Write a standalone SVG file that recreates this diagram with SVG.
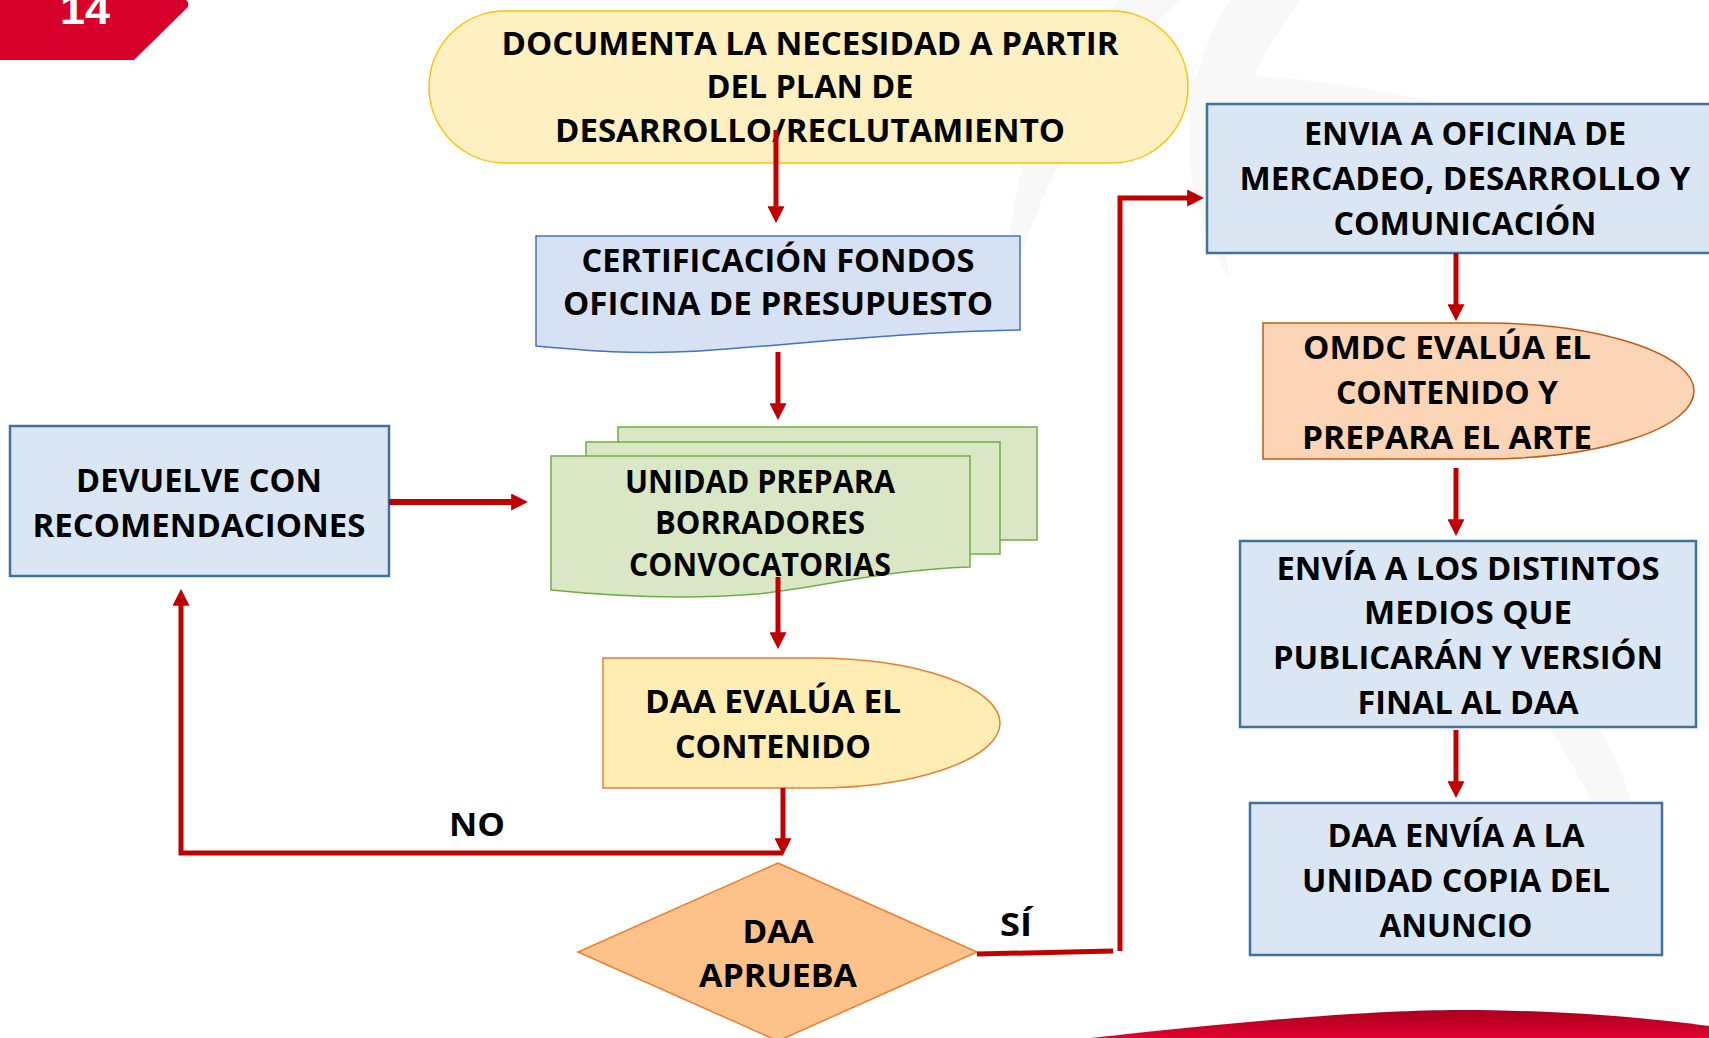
<svg xmlns="http://www.w3.org/2000/svg" width="1709" height="1038" viewBox="0 0 1709 1038">
<defs>
<style>
.t{font-family:"Open Sans","Liberation Sans",sans-serif;font-weight:700;font-size:33px;fill:#000;text-anchor:middle}
.c{fill:none;stroke:#C00000;stroke-width:5;marker-end:url(#ah)}
.cn{fill:none;stroke:#C00000;stroke-width:5}
.blue{fill:#DAE6F3;stroke:#41719C;stroke-width:2.5}
.green{fill:#D9E7C5;stroke:#70AD47;stroke-width:1.5}
</style>
<marker id="ah" viewBox="0 0 10 10" markerUnits="userSpaceOnUse" markerWidth="17" markerHeight="17" refX="0.5" refY="5" orient="auto">
<path d="M0,0 L10,5 L0,10 Z" fill="#C00000"/>
</marker>
<linearGradient id="sw" x1="0" y1="0" x2="0" y2="1">
<stop offset="0" stop-color="#A8001F"/>
<stop offset="1" stop-color="#E0002E"/>
</linearGradient>
</defs>
<rect width="1709" height="1038" fill="#FFFFFF"/>
<g id="watermark" fill="#F8F8F8">
<path d="M1120,0 C1060,60 1000,160 1010,300 C1030,200 1090,90 1180,0 Z"/>
<path d="M1230,0 C1180,80 1170,180 1230,280 C1210,170 1240,80 1300,0 Z"/>
<path d="M960,120 C1100,60 1300,60 1500,120 C1300,100 1100,110 960,150 Z"/>
<path d="M1500,600 C1600,700 1650,800 1640,900 C1600,820 1560,720 1480,640 Z"/>
</g>
<g id="badge">
<path d="M0,0 H186 Q191,4 186,9 L134,60 H0 Z" fill="#D7002A"/>
<text x="85" y="24" font-family="Liberation Sans,Arial,sans-serif" font-weight="700" font-size="42" fill="#FFFFFF" text-anchor="middle" textLength="50" lengthAdjust="spacingAndGlyphs">14</text>
</g>
<g id="swoosh">
<path d="M1090,1038 C1250,1020 1380,1010 1460,1010 C1560,1010 1650,1018 1709,1026 V1038 Z" fill="url(#sw)"/>
</g>
<g id="n-documenta">
<rect x="429" y="11" width="759" height="152" rx="76" ry="76" fill="#FFF0C1" stroke="#FFC000" stroke-width="1.5"/>
<text class="t" x="810" y="55" textLength="617" lengthAdjust="spacingAndGlyphs">DOCUMENTA LA NECESIDAD A PARTIR</text>
<text class="t" x="810" y="98" textLength="207" lengthAdjust="spacingAndGlyphs">DEL PLAN DE</text>
<text class="t" x="810" y="142" textLength="510" lengthAdjust="spacingAndGlyphs">DESARROLLO/RECLUTAMIENTO</text>
</g>
<g id="n-certificacion">
<path d="M536,236 H1020 V330 C900,332 790,345 700,351 C630,355 580,350 536,346 Z" fill="#D6E2F3" stroke="#4472C4" stroke-width="1.5"/>
<text class="t" x="778" y="272" textLength="393" lengthAdjust="spacingAndGlyphs">CERTIFICACIÓN FONDOS</text>
<text class="t" x="778" y="315" textLength="430" lengthAdjust="spacingAndGlyphs">OFICINA DE PRESUPUESTO</text>
</g>
<g id="n-unidad">
<rect class="green" x="618" y="427" width="419" height="113"/>
<rect class="green" x="586" y="442" width="414" height="112"/>
<path class="green" d="M551,456 H970 V567 C880,570 820,588 757,594 C680,600 610,596 551,590 Z"/>
<text class="t" x="760" y="493" textLength="270" lengthAdjust="spacingAndGlyphs">UNIDAD PREPARA</text>
<text class="t" x="760" y="534" textLength="210" lengthAdjust="spacingAndGlyphs">BORRADORES</text>
<text class="t" x="760" y="576" textLength="262" lengthAdjust="spacingAndGlyphs">CONVOCATORIAS</text>
</g>
<g id="n-devuelve">
<rect class="blue" x="10" y="426" width="379" height="150"/>
<text class="t" x="199" y="492" textLength="246" lengthAdjust="spacingAndGlyphs">DEVUELVE CON</text>
<text class="t" x="199" y="537" textLength="333" lengthAdjust="spacingAndGlyphs">RECOMENDACIONES</text>
</g>
<g id="n-daa-evalua">
<path d="M603,658 H813 A187,65 0 0 1 813,788 H603 Z" fill="#FFEDB3" stroke="#ED7D31" stroke-width="1.5"/>
<text class="t" x="773" y="713" textLength="256" lengthAdjust="spacingAndGlyphs">DAA EVALÚA EL</text>
<text class="t" x="773" y="758" textLength="196" lengthAdjust="spacingAndGlyphs">CONTENIDO</text>
</g>
<g id="n-daa-aprueba">
<polygon points="778,863 977,952 778,1041 578,952" fill="#FDC28A" stroke="#ED7D31" stroke-width="1.5"/>
<text class="t" x="778" y="943" textLength="71" lengthAdjust="spacingAndGlyphs">DAA</text>
<text class="t" x="778" y="987" textLength="158" lengthAdjust="spacingAndGlyphs">APRUEBA</text>
</g>
<g id="n-envia-oficina">
<rect class="blue" x="1207" y="104" width="520" height="149"/>
<text class="t" x="1465" y="145" textLength="322" lengthAdjust="spacingAndGlyphs">ENVIA A OFICINA DE</text>
<text class="t" x="1465" y="190" textLength="451" lengthAdjust="spacingAndGlyphs">MERCADEO, DESARROLLO Y</text>
<text class="t" x="1465" y="235" textLength="263" lengthAdjust="spacingAndGlyphs">COMUNICACIÓN</text>
</g>
<g id="n-omdc">
<path d="M1263,323 H1483 A211,68 0 0 1 1483,459 H1263 Z" fill="#FBD5B5" stroke="#C55A11" stroke-width="1.5"/>
<text class="t" x="1447" y="359" textLength="288" lengthAdjust="spacingAndGlyphs">OMDC EVALÚA EL</text>
<text class="t" x="1447" y="404" textLength="222" lengthAdjust="spacingAndGlyphs">CONTENIDO Y</text>
<text class="t" x="1447" y="449" textLength="290" lengthAdjust="spacingAndGlyphs">PREPARA EL ARTE</text>
</g>
<g id="n-envia-medios">
<rect class="blue" x="1240" y="541" width="456" height="186"/>
<text class="t" x="1468" y="580" textLength="383" lengthAdjust="spacingAndGlyphs">ENVÍA A LOS DISTINTOS</text>
<text class="t" x="1468" y="624" textLength="208" lengthAdjust="spacingAndGlyphs">MEDIOS QUE</text>
<text class="t" x="1468" y="669" textLength="390" lengthAdjust="spacingAndGlyphs">PUBLICARÁN Y VERSIÓN</text>
<text class="t" x="1468" y="714" textLength="221" lengthAdjust="spacingAndGlyphs">FINAL AL DAA</text>
</g>
<g id="n-daa-envia">
<rect class="blue" x="1250" y="803" width="412" height="152"/>
<text class="t" x="1456" y="847" textLength="257" lengthAdjust="spacingAndGlyphs">DAA ENVÍA A LA</text>
<text class="t" x="1456" y="892" textLength="308" lengthAdjust="spacingAndGlyphs">UNIDAD COPIA DEL</text>
<text class="t" x="1456" y="937" textLength="153" lengthAdjust="spacingAndGlyphs">ANUNCIO</text>
</g>
<g id="connectors">
<path class="c" d="M776,130 V207"/>
<path class="c" d="M778,352 V404"/>
<path class="c" style="stroke-width:6" d="M389,502 H512"/>
<path class="c" d="M778,577 V633"/>
<path class="c" d="M783,788 V839"/>
<path class="c" d="M783,853 H181 V605"/>
<path class="cn" d="M977,954 L1113,951"/>
<path class="c" d="M1120,951 V198 H1188"/>
<path class="c" d="M1456,253 V305"/>
<path class="c" d="M1456,468 V520"/>
<path class="c" d="M1456,730 V782"/>
</g>
<g id="labels">
<text class="t" x="477" y="836" textLength="56" lengthAdjust="spacingAndGlyphs">NO</text>
<text class="t" x="1016" y="936" textLength="32" lengthAdjust="spacingAndGlyphs">SÍ</text>
</g>
</svg>
